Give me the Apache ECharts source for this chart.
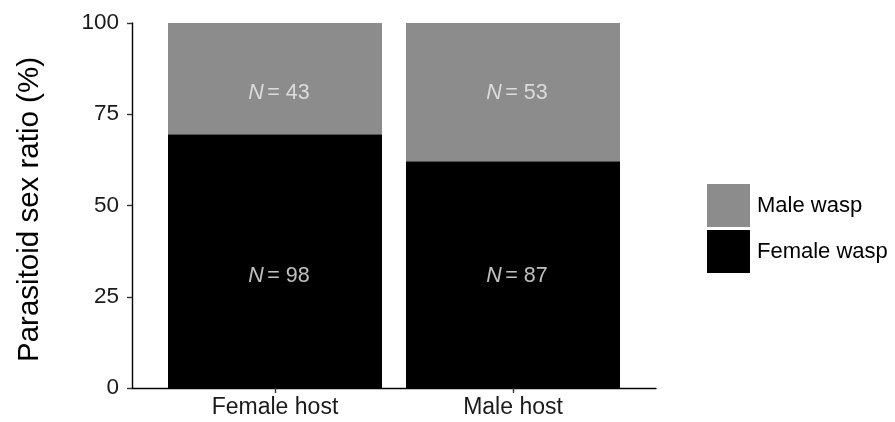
<!DOCTYPE html>
<html>
<head>
<meta charset="utf-8">
<script src="https://cdn.jsdelivr.net/npm/echarts@6/dist/echarts.min.js"></script>
<style>html,body{margin:0;padding:0;background:#fff}#c{width:895px;height:422px}</style>
</head>
<body>
<div id="c"></div>
<script>
const categories = ['Female host', 'Male host'];
const femaleWaspN = [98, 87];
const maleWaspN = [43, 53];
const yTicks = [0, 25, 50, 75, 100];
// label heights (in % units)
const maleLabelY = [80.8, 80.8];
const femaleLabelY = [30.7, 30.7];

const totals = femaleWaspN.map((f, i) => f + maleWaspN[i]);
const femalePct = femaleWaspN.map((f, i) => f / totals[i] * 100);
const malePct = maleWaspN.map((m, i) => m / totals[i] * 100);

const FONT = 'Liberation Sans, Arial, Helvetica, sans-serif';
const chart = echarts.init(document.getElementById('c'), null, {renderer: 'canvas'});

const labelRich = {
  i: {fontStyle: 'italic', color: '#efefef', fontSize: 21.5, fontFamily: FONT},
  n: {color: '#efefef', fontSize: 21.5, fontFamily: FONT}
};

chart.setOption({
  animation: false,
  backgroundColor: '#ffffff',
  grid: [
    {left: 132, right: 239, top: 23, bottom: 34, containLabel: false},
    {left: 156, right: 263, top: 23, bottom: 34, containLabel: false}
  ],
  legend: {
    orient: 'vertical', left: 702, top: 179,
    itemWidth: 43, itemHeight: 43, itemGap: 3,
    icon: 'rect',
    data: ['Male wasp', 'Female wasp'],
    textStyle: {fontSize: 22, fontFamily: FONT, color: '#000', padding: [0, 0, 0, 2]}
  },
  xAxis: [
    {
      gridIndex: 0, type: 'value', min: 0, max: 1,
      splitLine: {show: false},
      axisLine: {show: true, lineStyle: {color: '#000', width: 1.4}},
      axisTick: {show: false}, axisLabel: {show: false}
    },
    {
      gridIndex: 1, type: 'category', data: categories,
      axisLine: {show: false},
      axisTick: {show: true, alignWithLabel: true, length: 5, lineStyle: {color: '#333', width: 1.4}},
      axisLabel: {margin: 8, fontSize: 23, fontFamily: FONT, color: '#1a1a1a'}
    }
  ],
  yAxis: [
    {
      gridIndex: 0, type: 'value', min: 0, max: 100, interval: 25,
      name: 'Parasitoid sex ratio (%)', nameLocation: 'middle', nameGap: 87,
      nameTextStyle: {fontSize: 29.5, fontFamily: FONT, color: '#000', padding: [0, 8, 0, 0]},
      splitLine: {show: false},
      axisLine: {show: true, lineStyle: {color: '#000', width: 1.4}},
      axisTick: {show: true, length: 5, lineStyle: {color: '#333', width: 1.4}},
      axisLabel: {margin: 13, fontSize: 22.5, fontFamily: FONT, color: '#1a1a1a',
        formatter: v => yTicks.includes(v) ? String(v) : ''}
    },
    {
      gridIndex: 1, type: 'value', min: 0, max: 100, show: false
    }
  ],
  series: [
    {
      name: 'Female wasp', type: 'bar', stack: 'a', barWidth: 214,
      xAxisIndex: 1, yAxisIndex: 1,
      itemStyle: {color: '#000000'},
      data: femalePct
    },
    {
      name: 'Male wasp', type: 'bar', stack: 'a', barWidth: 214,
      xAxisIndex: 1, yAxisIndex: 1,
      itemStyle: {color: '#8c8c8c'},
      data: malePct
    },
    {
      type: 'scatter', symbolSize: 0, silent: true,
      xAxisIndex: 1, yAxisIndex: 1,
      data: maleLabelY.map((y, i) => ({value: [categories[i], y], n: maleWaspN[i]}))
        .concat(femaleLabelY.map((y, i) => ({value: [categories[i], y], n: femaleWaspN[i]}))),
      label: {
        show: true, position: 'inside', offset: [4, 0],
        formatter: p => '{i|N} {n|= ' + p.data.n + '}',
        rich: labelRich
      }
    }
  ]
});
</script>
</body>
</html>
